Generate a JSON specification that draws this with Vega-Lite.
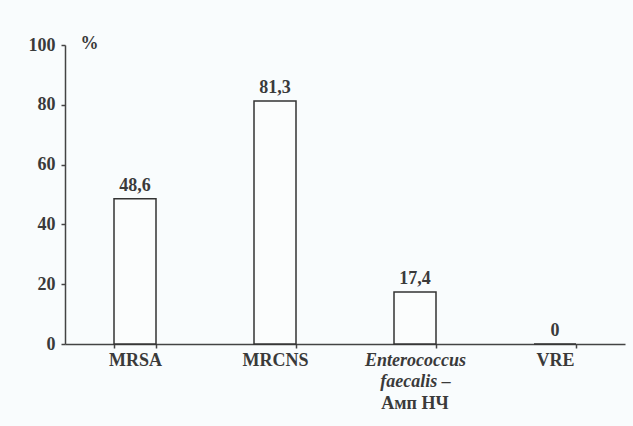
{
  "$schema": "https://vega.github.io/schema/vega-lite/v6.json",
  "width": 560,
  "height": 299,
  "autosize": {"type": "none"},
  "padding": {"left": 65, "top": 45, "right": 8, "bottom": 82},
  "background": "#f9fcfd",
  "config": {
    "view": {"stroke": null},
    "font": "Liberation Serif",
    "axis": {
      "labelFont": "Liberation Serif",
      "labelFontWeight": "bold",
      "labelFontSize": 18,
      "labelColor": "#3a3a3a",
      "domainColor": "#444444",
      "domainWidth": 1.5,
      "tickColor": "#444444",
      "tickWidth": 1.5,
      "grid": false
    }
  },
  "data": {
    "values": [
      {"cat": "MRSA", "value": 48.6, "label": "48,6"},
      {"cat": "MRCNS", "value": 81.3, "label": "81,3"},
      {"cat": "Enterococcus", "value": 17.4, "label": "17,4", "note": "Амп НЧ"},
      {"cat": "VRE", "value": 0, "label": "0"}
    ]
  },
  "encoding": {
    "x": {
      "field": "cat",
      "type": "nominal",
      "sort": null,
      "scale": {"paddingInner": 0.7, "paddingOuter": 0.35},
      "axis": {
        "title": null,
        "labelAngle": 0,
        "tickBand": "extent",
        "tickSize": 4,
        "labelPadding": 3,
        "labelBaseline": "top",
        "labelLineHeight": 21,
        "labelExpr": "datum.value == 'Enterococcus' ? ['Enterococcus', 'faecalis –'] : datum.value",
        "labelFontStyle": {"condition": {"test": "datum.value == 'Enterococcus'", "value": "italic"}, "value": "normal"}
      }
    }
  },
  "layer": [
    {
      "mark": {"type": "bar", "fill": "#fbfdfd", "stroke": "#333333", "strokeWidth": 1.5},
      "encoding": {
        "y": {
          "field": "value",
          "type": "quantitative",
          "scale": {"domain": [0, 100]},
          "axis": {
            "values": [0, 20, 40, 60, 80, 100],
            "tickSize": 4,
            "labelPadding": 6,
            "title": "%",
            "titleAngle": 0,
            "titleFont": "Liberation Serif",
            "titleFontWeight": "bold",
            "titleFontSize": 18,
            "titleColor": "#3a3a3a",
            "titleAlign": "left",
            "titleBaseline": "alphabetic",
            "titleX": 15,
            "titleY": 3
          }
        }
      }
    },
    {
      "mark": {"type": "text", "font": "Liberation Serif", "fontWeight": "bold", "fontSize": 18, "color": "#3a3a3a", "baseline": "alphabetic", "dy": -8},
      "encoding": {
        "y": {"field": "value", "type": "quantitative"},
        "text": {"field": "label"}
      }
    },
    {
      "transform": [{"filter": "datum.note != null"}],
      "mark": {"type": "text", "font": "Liberation Serif", "fontWeight": "bold", "fontSize": 18, "color": "#3a3a3a", "baseline": "middle", "dy": 60},
      "encoding": {
        "y": {"datum": 0, "type": "quantitative"},
        "text": {"field": "note"}
      }
    }
  ]
}
